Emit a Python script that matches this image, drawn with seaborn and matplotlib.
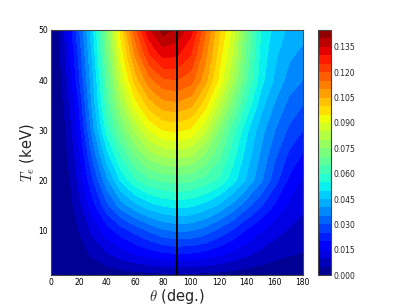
import numpy as np
import matplotlib
matplotlib.use("Agg")
import matplotlib.pyplot as plt
import seaborn as sns

# scattering angle (deg) and electron temperature (keV) grid
theta = [0, 5, 10, 15, 20, 30, 40, 50, 60, 70, 80, 90, 100, 110, 120, 130, 140, 150, 160, 170, 180]
te = [1, 5, 10, 15, 20, 25, 30, 35, 40, 45, 50]

# values, one row per temperature
z_te1 = [0, 0.0001, 0.0002, 0.0003, 0.0005, 0.0011, 0.0017, 0.0023, 0.0028, 0.0032, 0.0035, 0.0037,
         0.0036, 0.0034, 0.0030, 0.0025, 0.0020, 0.0016, 0.0012, 0.0010, 0.0009]
z_te5 = [0, 0.0003, 0.0008, 0.0016, 0.0027, 0.0058, 0.0090, 0.0120, 0.0145, 0.0166, 0.0182, 0.0190,
         0.0187, 0.0175, 0.0155, 0.0130, 0.0105, 0.0083, 0.0064, 0.0052, 0.0046]
z_te10 = [0, 0.0005, 0.0015, 0.0030, 0.0052, 0.0115, 0.0180, 0.0228, 0.0270, 0.0310, 0.0345, 0.0360,
          0.0355, 0.0330, 0.0290, 0.0245, 0.0195, 0.0155, 0.0120, 0.0095, 0.0080]
z_te15 = [0, 0.00065, 0.0020, 0.0044, 0.0083, 0.0183, 0.0288, 0.0375, 0.0435, 0.0480, 0.0507, 0.0518,
          0.0511, 0.0483, 0.0443, 0.0385, 0.0318, 0.0258, 0.0195, 0.0142, 0.0110]
z_te20 = [0, 0.0008, 0.0025, 0.0060, 0.0115, 0.0250, 0.0390, 0.0510, 0.0590, 0.0640, 0.0660, 0.0670,
          0.0660, 0.0630, 0.0590, 0.0520, 0.0440, 0.0360, 0.0270, 0.0190, 0.0140]
z_te25 = [0, 0.00115, 0.0033, 0.0077, 0.0138, 0.0315, 0.0480, 0.0605, 0.0705, 0.0775, 0.0810, 0.0820,
          0.0805, 0.0745, 0.0665, 0.0570, 0.0475, 0.0390, 0.0310, 0.0240, 0.0195]
z_te30 = [0, 0.0015, 0.0045, 0.0100, 0.0170, 0.0380, 0.0570, 0.0700, 0.0810, 0.0900, 0.0950, 0.0960,
          0.0940, 0.0860, 0.0740, 0.0620, 0.0510, 0.0420, 0.0350, 0.0290, 0.0250]
z_te35 = [0, 0.0019, 0.0058, 0.0122, 0.0202, 0.0420, 0.0625, 0.0785, 0.0920, 0.1020, 0.1075, 0.1085,
          0.1060, 0.0970, 0.0845, 0.0713, 0.0583, 0.0470, 0.0393, 0.0333, 0.0300]
z_te40 = [0, 0.0025, 0.0075, 0.0150, 0.0240, 0.0440, 0.0660, 0.0860, 0.1020, 0.1130, 0.1190, 0.1200,
          0.1170, 0.1070, 0.0940, 0.0800, 0.0650, 0.0520, 0.0440, 0.0380, 0.0350]
z_te45 = [0, 0.0029, 0.0091, 0.0173, 0.0263, 0.0467, 0.0697, 0.0917, 0.1103, 0.1240, 0.1315, 0.1305,
          0.1248, 0.1117, 0.0977, 0.0842, 0.0677, 0.0535, 0.0460, 0.0410, 0.0385]
z_te50 = [0, 0.0035, 0.0110, 0.0200, 0.0290, 0.0490, 0.0730, 0.0970, 0.1180, 0.1340, 0.1425, 0.1390,
          0.1320, 0.1160, 0.1010, 0.0880, 0.0700, 0.0550, 0.0480, 0.0440, 0.0420]

cbar_ticks = [0.000, 0.015, 0.030, 0.045, 0.060, 0.075, 0.090, 0.105, 0.120, 0.135]
x_ticks = [0, 20, 40, 60, 80, 100, 120, 140, 160, 180]
y_ticks = [10, 20, 30, 40, 50]

sns.set_theme(style="white")
plt.rcParams["font.family"] = ["DejaVu Sans"]
plt.rcParams["mathtext.fontset"] = "cm"

Z = np.array([z_te1, z_te5, z_te10, z_te15, z_te20, z_te25, z_te30,
              z_te35, z_te40, z_te45, z_te50])
TH, TE = np.meshgrid(np.array(theta, float), np.array(te, float))

fig = plt.figure(figsize=(4.06, 3.06), dpi=100)
ax = fig.add_axes([0.1256, 0.101, 0.6204, 0.801])
cax = fig.add_axes([0.783, 0.101, 0.032, 0.801])

levels = np.linspace(0, 0.145, 30)
cs = ax.contourf(TH, TE, Z, levels=levels, cmap="jet", antialiased=False)
ax.axvline(90, color="black", lw=1.4)

ax.set_xlim(0, 180)
ax.set_ylim(1, 50)
ax.set_xticks(x_ticks)
ax.set_yticks(y_ticks)
ax.tick_params(direction="in", top=True, right=True, length=3, width=0.6,
               labelsize=5.5, colors="black", pad=2)
for s in ax.spines.values():
    s.set_color("#444444")
    s.set_linewidth(0.8)
ax.set_xlabel(r"$\theta$ (deg.)", fontsize=10.5, labelpad=0)
ax.set_ylabel(r"$T_e$ (keV)", fontsize=10.5, labelpad=2)

cb = fig.colorbar(cs, cax=cax, ticks=cbar_ticks, format="%.3f")
cb.ax.tick_params(direction="in", length=2.5, width=0.6, labelsize=5.5, pad=2)
cb.outline.set_edgecolor("#444444")
cb.outline.set_linewidth(0.8)

fig.savefig("out.png", dpi=100)
